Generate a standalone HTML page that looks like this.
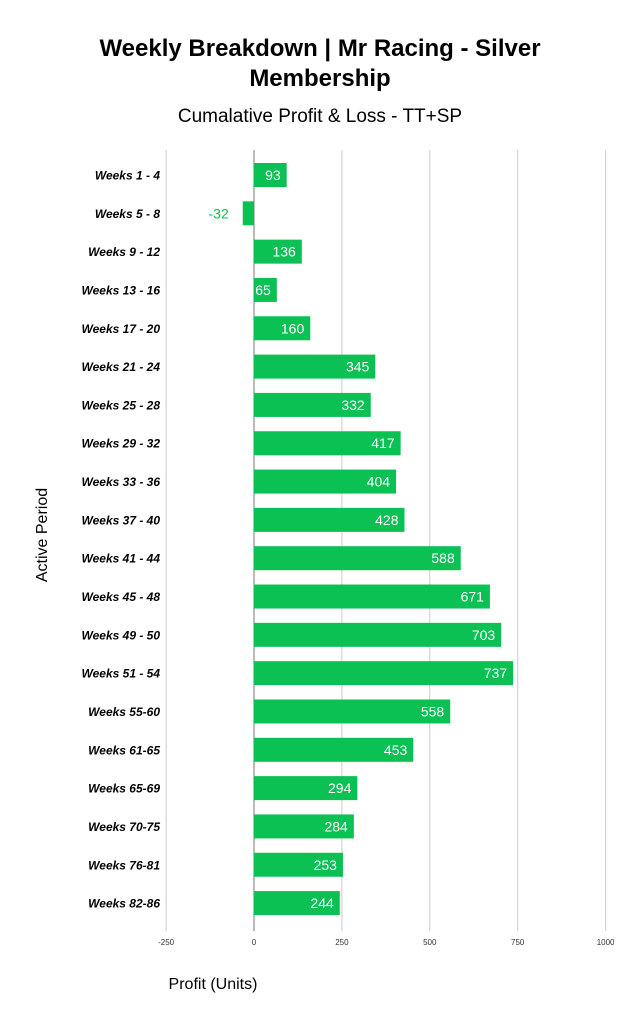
<!DOCTYPE html>
<html><head><meta charset="utf-8"><style>
body{margin:0;background:#fff;width:638px;height:1024px;overflow:hidden;font-family:"Liberation Sans",sans-serif}
</style></head><body>
<svg width="638" height="1024" xmlns="http://www.w3.org/2000/svg">
<text x="320" y="56" text-anchor="middle" font-size="24" font-weight="bold">Weekly Breakdown | Mr Racing - Silver</text>
<text x="320" y="86" text-anchor="middle" font-size="24" font-weight="bold">Membership</text>
<text x="320" y="122" text-anchor="middle" font-size="19">Cumalative Profit &amp; Loss - TT+SP</text>
<text x="213" y="989" text-anchor="middle" font-size="16">Profit (Units)</text>
<text transform="translate(47,535) rotate(-90)" text-anchor="middle" font-size="16">Active Period</text>
<g id="grid"></g><g id="bars"></g>
</svg>
<script>
const categories=["Weeks 1 - 4","Weeks 5 - 8","Weeks 9 - 12","Weeks 13 - 16","Weeks 17 - 20","Weeks 21 - 24","Weeks 25 - 28","Weeks 29 - 32","Weeks 33 - 36","Weeks 37 - 40","Weeks 41 - 44","Weeks 45 - 48","Weeks 49 - 50","Weeks 51 - 54","Weeks 55-60","Weeks 61-65","Weeks 65-69","Weeks 70-75","Weeks 76-81","Weeks 82-86"];
const values=[93,-32,136,65,160,345,332,417,404,428,588,671,703,737,558,453,294,284,253,244];
const ticks=[-250,0,250,500,750,1000];
const NS="http://www.w3.org/2000/svg";
const xs=v=>254+v*0.3516;
const yc=i=>175+i*38.32;
const plotTop=150,plotBot=923;
function mk(t,a,p){const e=document.createElementNS(NS,t);for(const k in a)e.setAttribute(k,a[k]);p.appendChild(e);return e;}
const grid=document.getElementById('grid'),bars=document.getElementById('bars');
ticks.forEach(t=>{
 const l=mk('line',{x1:xs(t),x2:xs(t),y1:plotTop,y2:931,stroke:t===0?'#777':'#ccc','stroke-width':1},grid);
 
 
 const tx=mk('text',{x:xs(t),y:945,'text-anchor':'middle','font-size':8,fill:'#333'},grid);
 tx.textContent=t;
 
 
});
categories.forEach((c,i)=>{
 const v=values[i],y=yc(i);
 const lb=mk('text',{x:160,y:y+4.5,'text-anchor':'end','font-size':12,'font-weight':'bold','font-style':'italic'},bars);
 lb.textContent=c;
 
 
 const x0=Math.min(xs(0),xs(v)),w=Math.abs(xs(v)-xs(0));
 const r=mk('rect',{x:x0,y:y-12,width:w,height:24,fill:'#0bc154'},bars);
 
 
 const vt=mk('text',{y:y+5,'font-size':14},bars);
 if(v<0){vt.setAttribute('x',xs(v)-14);vt.setAttribute('text-anchor','end');vt.setAttribute('fill','#0bc154');}
 else{vt.setAttribute('x',xs(v)-6);vt.setAttribute('text-anchor','end');vt.setAttribute('fill','#fff');}
 vt.textContent=v;
 
 
});
</script>
</body></html>
